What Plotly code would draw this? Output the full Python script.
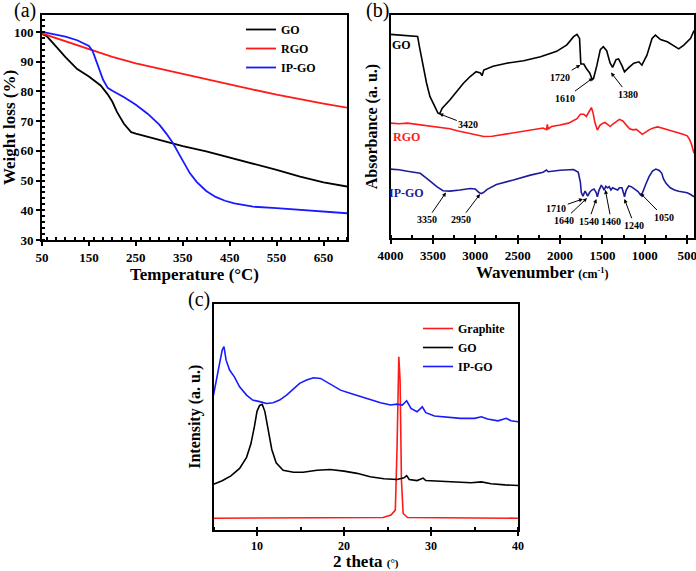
import plotly.graph_objects as go

# ---------------- data: (a) TGA ----------------
temp_go = [50, 60, 75, 100, 125, 150, 175, 190, 200, 210, 225, 240, 250, 300, 350, 400, 450, 500, 550, 600, 650, 700]
wt_go = [99.3, 98.6, 96, 91.5, 87.5, 85, 82, 79, 76.5, 73, 69, 66.3, 65.8, 63.6, 61.6, 59.8, 57.8, 55.7, 53.6, 51.3, 49.4, 48]

temp_rgo = [50, 100, 150, 200, 250, 300, 350, 400, 450, 500, 550, 600, 650, 700]
wt_rgo = [99.5, 96.8, 94.2, 91.6, 89.4, 87.6, 85.8, 84, 82.3, 80.6, 78.9, 77.3, 75.9, 74.5]

temp_ip = [50, 75, 100, 125, 140, 150, 158, 165, 172, 180, 190, 200, 225, 250, 275, 300, 315, 330, 340, 350,
           365, 380, 400, 420, 440, 460, 480, 500, 550, 600, 650, 700]
wt_ip = [100, 99.3, 98.4, 97.2, 96.2, 95.3, 93.5, 90.5, 87, 84, 81.2, 80.2, 78, 75.5, 72.5, 68.8, 65.8, 62.4, 59.5, 56.5,
         52.5, 49.5, 46.5, 44.5, 43.2, 42.3, 41.7, 41.2, 40.7, 40.2, 39.6, 39]

# ---------------- data: (b) FTIR ----------------
wn_go = [4000, 3850, 3680, 3660, 3620, 3575, 3535, 3480, 3440, 3420, 3390, 3300, 3220, 3140, 3060, 2990, 2940, 2920,
         2900, 2790, 2630, 2430, 2230, 2040, 1920, 1840, 1800, 1770, 1755, 1720, 1690, 1650, 1620, 1605, 1565, 1525,
         1490, 1450, 1410, 1380, 1340, 1310, 1270, 1240, 1190, 1130, 1070, 1035, 975, 915, 875, 815, 735, 660, 600,
         540, 460, 420]
ab_go = [91.3, 91.0, 90.4, 86, 77.5, 69.5, 63.5, 58.8, 56.0, 55.7, 58.2, 61.9, 65.7, 69.4, 72.4, 74.6, 74.0, 72.8,
         75.3, 77.0, 78.4, 79.5, 81.3, 83.7, 86.6, 90.3, 91.3, 89.5, 78, 78, 76, 74, 71, 71.5, 77.5, 84.5,
         85.8, 84, 78.5, 76.5, 80, 80.3, 77.3, 74.5, 76.4, 78.4, 79, 77.5, 82, 89.5, 91, 89, 88, 86.4, 84.8,
         86.5, 89.5, 93]

wn_rgo = [4000, 3900, 3800, 3700, 3600, 3500, 3400, 3300, 3200, 3100, 3000, 2900, 2800, 2700, 2600, 2500, 2400,
          2300, 2200, 2160, 2150, 2140, 2100, 2000, 1900, 1800, 1760, 1720, 1690, 1660, 1630, 1610, 1590, 1560, 1530,
          1500, 1470, 1440, 1410, 1380, 1340, 1300, 1260, 1220, 1180, 1140, 1100, 1060, 1030, 990, 950, 900, 850,
          800, 750, 700, 650, 600, 550, 500, 470, 450, 430, 420]
ab_rgo = [51.5, 51.2, 51.5, 51.0, 50.7, 50.3, 49.8, 49.0, 48.0, 47.2, 46.5, 45.5, 45.6, 46.2, 46.9, 47.4, 47.8,
          48.5, 49.3, 48.6, 51.0, 48.9, 50.0, 50.7, 51.5, 53.5, 55.5, 55.5, 54.5, 56.5, 58.5, 56, 52, 48.4, 50.5,
          51.4, 51.8, 51, 50, 51, 52.2, 53.2, 52.5, 50.5, 49, 48.5, 48.7, 47.5, 46.5, 47.5, 48.5, 49.3, 49.8,
          49.3, 48.8, 48.3, 47.8, 47.2, 46.5, 45.8, 44, 42, 39.5, 38]

wn_ip = [4000, 3900, 3800, 3700, 3650, 3580, 3500, 3450, 3380, 3300, 3180, 3060, 3000, 2960, 2930, 2900, 2860, 2750,
         2550, 2350, 2200, 2160, 2140, 2000, 1840, 1785, 1760, 1750, 1730, 1705, 1690, 1675, 1650, 1625, 1600, 1575,
         1560, 1540, 1515, 1500, 1480, 1460, 1440, 1420, 1400, 1380, 1350, 1320, 1300, 1270, 1250, 1240, 1220, 1190,
         1160, 1120, 1080, 1050, 1030, 990, 950, 910, 870, 830, 800, 780, 750, 700, 650, 600, 550, 500, 460, 420]
ab_ip = [30.9, 30.6, 29.9, 29.5, 29.0, 27.0, 24.5, 22.9, 21.2, 21.0, 21.5, 22.2, 22.0, 20.5, 19.9, 20.5, 21.8, 24.0,
         26.0, 28.2, 29.5, 30.5, 29.7, 30.4, 30.7, 29.5, 25, 20.5, 18.8, 21, 20, 18.8, 20.5, 21.5, 22.0, 20.5,
         18.5, 21.5, 23.5, 23.0, 21.5, 23.2, 22.5, 23.0, 21.5, 22.5, 22.0, 21.5, 22.5, 22.5, 20.0, 18.5, 21.5, 23.3,
         23.0, 22.0, 20.8, 19.3, 20.0, 24, 27.5, 30.0, 30.9, 30.3, 29.0, 26.5, 24.5, 22.5, 21.5, 21.0, 20.6, 20.3, 19.5, 18.5]

# peak labels (label, wavenumber of arrow tip, value at tip, text x, text y)
go_peaks = ["3420", "1720", "1610", "1380"]
go_peak_x = [3425, 1761, 1611, 1399]
go_peak_y = [55.7, 77.6, 71.8, 74.2]
go_text_x = [3082, 1998, 1938, 1201]
go_text_y = [50.7, 72.1, 62.7, 64.5]

ip_peaks = ["3350", "2950", "1710", "1640", "1540", "1460", "1240", "1050"]
ip_peak_x = [3346, 2944, 1730, 1682, 1572, 1466, 1241, 1052]
ip_peak_y = [20.4, 19.7, 17.5, 17.9, 17.5, 21.6, 17.5, 20.1]
ip_text_x = [3566, 3172, 2045, 1958, 1663, 1395, 1123, 776]
ip_text_y = [8.2, 8.2, 13.4, 7.9, 7.5, 7.5, 5.7, 9.4]

# ---------------- data: (c) XRD ----------------
th_gr = [5, 24.5, 25.4, 25.9, 26.1, 26.3, 26.45, 26.6, 26.8, 27.3, 40]
in_gr = [5.0, 5.3, 6.4, 8.6, 36.7, 76.6, 66, 22, 7.1, 5.3, 5.0]

th_go = [5, 6, 7, 8, 8.8, 9.3, 9.7, 10, 10.3, 10.6, 10.9, 11.3, 11.7, 12.2, 13, 14.2, 15.3, 16.9, 18.4, 20, 21.5,
         23, 24.6, 26.1, 26.9, 27.2, 27.5, 28.4, 29.1, 29.4, 30.7, 32.7, 34.6, 35.8, 36.9, 38.5, 40]
in_go = [20.1, 21.6, 23.8, 27.1, 32, 38, 45.6, 52.4, 55, 55.5, 52.4, 44.4, 35.5, 29.6, 26.3, 25.4, 25.4, 26.3, 26.6,
         25.9, 24.9, 23.4, 22.5, 22.2, 22.9, 23.9, 22.2, 21.7, 22.8, 21.7, 21.4, 21.0, 20.7, 21.1, 20.3, 19.8, 19.5]

th_ip = [5, 5.3, 5.7, 6.0, 6.2, 6.45, 6.85, 7.4, 8, 8.8, 9.5, 10.3, 11.1, 11.85, 12.6, 13.4, 14.2, 14.9, 15.7, 16.5,
         17.3, 18, 18.8, 19.6, 20.7, 21.9, 23, 24.2, 25.35, 26.1, 26.7, 27.2, 27.7, 28.4, 29.0, 29.4, 30.4, 31.9,
         33.4, 35, 35.8, 36.5, 37.7, 38.65, 39.2, 40]
in_ip = [59.6, 66.3, 73.7, 79.6, 81.1, 75.1, 70.7, 67.7, 63.3, 59.6, 57.4, 56.7, 55.9, 56.2, 57.4, 59.6, 62.6, 64.8,
         66.3, 67.3, 67.0, 65.5, 63.6, 61.8, 60.4, 58.9, 57.4, 56.2, 55.2, 55.6, 55.2, 57.1, 53.7, 52.2, 54.4, 51.8,
         50.3, 49.7, 49.3, 49.3, 50.0, 49.0, 48.2, 49.3, 48.2, 47.8]

# ---------------- layout helpers ----------------
W, H = 696, 571
SERIF = "Liberation Serif"
BLACK, RED, BLUE, NAVY = "#000000", "#ff1a1a", "#1a1aff", "#1c1c9a"


def dom_x(a, b):
    return [a / W, b / W]


def dom_y(top, bottom):
    return [1 - bottom / H, 1 - top / H]


fig = go.Figure()

# (a)
fig.add_trace(go.Scatter(x=temp_go, y=wt_go, mode="lines", name="GO", line=dict(color=BLACK, width=1.8),
                         xaxis="x", yaxis="y", legend="legend"))
fig.add_trace(go.Scatter(x=temp_rgo, y=wt_rgo, mode="lines", name="RGO", line=dict(color=RED, width=1.8),
                         xaxis="x", yaxis="y", legend="legend"))
fig.add_trace(go.Scatter(x=temp_ip, y=wt_ip, mode="lines", name="IP-GO", line=dict(color=BLUE, width=1.8),
                         xaxis="x", yaxis="y", legend="legend"))
# (b)
fig.add_trace(go.Scatter(x=wn_go, y=ab_go, mode="lines", line=dict(color=BLACK, width=1.6),
                         xaxis="x2", yaxis="y2", showlegend=False))
fig.add_trace(go.Scatter(x=wn_rgo, y=ab_rgo, mode="lines", line=dict(color=RED, width=1.6),
                         xaxis="x2", yaxis="y2", showlegend=False))
fig.add_trace(go.Scatter(x=wn_ip, y=ab_ip, mode="lines", line=dict(color=NAVY, width=1.6),
                         xaxis="x2", yaxis="y2", showlegend=False))
# (c)
fig.add_trace(go.Scatter(x=th_gr, y=in_gr, mode="lines", name="Graphite", line=dict(color=RED, width=1.6),
                         xaxis="x3", yaxis="y3", legend="legend2"))
fig.add_trace(go.Scatter(x=th_go, y=in_go, mode="lines", name="GO", line=dict(color=BLACK, width=1.6),
                         xaxis="x3", yaxis="y3", legend="legend2"))
fig.add_trace(go.Scatter(x=th_ip, y=in_ip, mode="lines", name="IP-GO", line=dict(color=BLUE, width=1.6),
                         xaxis="x3", yaxis="y3", legend="legend2"))

tickf = dict(family=SERIF, size=13, color="black", weight="bold")
titlef = dict(family=SERIF, size=17, color="black", weight="bold")
ytitlef = dict(family=SERIF, size=16, color="black", weight="bold")
common = dict(showline=True, linecolor="black", linewidth=2, mirror=True, showgrid=False, zeroline=False,
              automargin=False, ticks="outside", ticklen=4, tickwidth=1.5, tickcolor="black",
              ticklabeloverflow="allow")

fig.update_layout(
    width=W, height=H, margin=dict(l=0, r=0, t=0, b=0),
    paper_bgcolor="white", plot_bgcolor="white",
    font=dict(family=SERIF, color="black"),
    xaxis=dict(domain=dom_x(42, 347), anchor="y", range=[50, 700], tick0=50, dtick=100,
               tickfont=tickf, title=dict(text="Temperature (°C)", font=titlef, standoff=4),
               minor=dict(dtick=20, ticks="inside", ticklen=3, tickcolor="black"), **common),
    yaxis=dict(domain=dom_y(15, 240), anchor="x", range=[30, 105.7], tick0=30, dtick=10,
               tickfont=tickf, title=dict(text="Weight loss (%)", font=titlef, standoff=4),
               minor=dict(dtick=2, ticks="inside", ticklen=3, tickcolor="black"), **common),
    xaxis2=dict(domain=dom_x(390.5, 694), anchor="y2", range=[4000, 420], tick0=500, dtick=500,
                tickfont=tickf,
                title=dict(text="Wavenumber <span style='font-size:12px'>(cm<sup>-1</sup>)</span>", font=titlef,
                           standoff=4),
                minor=dict(dtick=250, ticks="inside", ticklen=3, tickcolor="black"), **common),
    yaxis2=dict(domain=dom_y(15, 238), anchor="x2", range=[0, 100], showticklabels=False,
                title=dict(text="Absorbance (a. u.)", font=ytitlef, standoff=7),
                **{**common, "ticks": ""}),
    xaxis3=dict(domain=dom_x(213.5, 518), anchor="y3", range=[5, 40], tick0=0, dtick=10,
                tickfont=dict(family=SERIF, size=12, color="black", weight="bold"),
                title=dict(text="2 theta <span style='font-size:11px'>(°)</span>", font=titlef, standoff=3),
                minor=dict(dtick=5, ticks="inside", ticklen=3, tickcolor="black"), **common),
    yaxis3=dict(domain=dom_y(304, 529.5), anchor="x3", range=[0, 100], showticklabels=False,
                title=dict(text="Intensity (a. u.)", font=ytitlef, standoff=7),
                **{**common, "ticks": ""}),
    legend=dict(x=241 / W, y=1 - 15 / H, xanchor="left", yanchor="top", bgcolor="rgba(0,0,0,0)",
                font=dict(family=SERIF, size=12, color="black", weight="bold"), itemwidth=30,
                tracegroupgap=0),
    legend2=dict(x=418 / W, y=1 - 314 / H, xanchor="left", yanchor="top", bgcolor="rgba(0,0,0,0)",
                 font=dict(family=SERIF, size=12, color="black", weight="bold"), itemwidth=30,
                 tracegroupgap=0),
)

ann = []
# panel letters
for txt, px, py in [("(a)", 25, 11), ("(b)", 377, 10), ("(c)", 199, 299)]:
    ann.append(dict(text=txt, x=px / W, y=1 - py / H, xref="paper", yref="paper", showarrow=False,
                    xanchor="center", yanchor="middle", font=dict(family=SERIF, size=20, color="black")))
# series names in (b)
for txt, xv, yv, col in [("GO", 3870, 86.6, BLACK), ("RGO", 3811, 45.2, RED), ("IP-GO", 3811, 20.4, NAVY)]:
    ann.append(dict(text=txt, x=xv, y=yv, xref="x2", yref="y2", showarrow=False,
                    font=dict(family=SERIF, size=12, color=col, weight="bold")))
# peak labels in (b)
for labels, px_, py_, tx_, ty_ in [(go_peaks, go_peak_x, go_peak_y, go_text_x, go_text_y),
                                   (ip_peaks, ip_peak_x, ip_peak_y, ip_text_x, ip_text_y)]:
    for lab, xv, yv, tx, ty in zip(labels, px_, py_, tx_, ty_):
        ann.append(dict(text=lab, x=xv, y=yv, xref="x2", yref="y2", ax=tx, ay=ty, axref="x2", ayref="y2",
                        showarrow=True, arrowhead=2, arrowsize=0.8, arrowwidth=1, arrowcolor="black",
                        font=dict(family=SERIF, size=10, color="black", weight="bold")))
fig.update_layout(annotations=ann)

fig.write_html("out.html", config={"displayModeBar": False},
               post_script="document.body.style.margin='0px';")
